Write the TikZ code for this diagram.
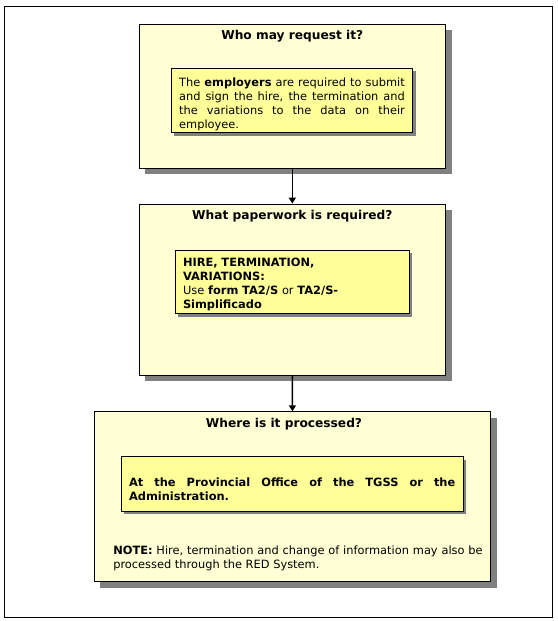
\documentclass[tikz,border=0pt]{standalone}
\usepackage{fontspec}
\setmainfont{DejaVu Sans}
\usetikzlibrary{positioning, shadows, arrows.meta}
\definecolor{paleyellow}{HTML}{FFFFD6}
\definecolor{noteyellow}{HTML}{FFFF99}
\tikzset{
	>={Triangle[length=6pt,width=7pt]}, % filled arrow heads
	stagebox/.style={draw, line width=0.8pt, fill=paleyellow, drop shadow={shadow xshift=6pt, shadow yshift=-6pt, fill=black!50, opacity=1}}, % the three big boxes
	notebox/.style={draw, line width=0.8pt, fill=noteyellow, inner sep=8pt, drop shadow={shadow xshift=3pt, shadow yshift=-3pt, fill=black!50, opacity=1}}, % the boxes inside
	titletext/.style={font=\fontsize{12.2}{14}\selectfont\bfseries}, % box headings
	bodytext/.style={font=\fontsize{11.4}{14}\selectfont}, % small text
}

\begin{document}
\begin{tikzpicture}[x=1pt, y=-1pt]
			\useasboundingbox (0,0) rectangle (557,621);
			\draw[line width=0.8pt] (4,6) rectangle (552,617);
			
			% Define boxes
			\node[stagebox, minimum width=306.7pt, minimum height=144pt] (who) at (292.3,96) {};
			\node[stagebox, minimum width=306.7pt, minimum height=171pt] (what) at (292.3,289.5) {};
			\node[stagebox, minimum width=396.4pt, minimum height=170pt] (where) at (292.5,496.7) {};
			
			% Headings
			\node[titletext] (whot) at (292.3,36.5) {Who may request it?};
			\node[titletext] (whatt) at (292.3,216.5) {What paperwork is required?};
			\node[titletext] (wheret) at (284,424.5) {Where is it processed?};
			
			% Inner boxes
			\node[notebox, bodytext, inner ysep=2pt, minimum width=241.7pt, minimum height=63pt, text width=225.7pt, align=justify] (whon) at (292,100.5)
			{\rule{0pt}{16pt}The \textbf{employers} are required to submit\linebreak and sign the hire, the termination and\linebreak the variations to the data on their\linebreak employee.};
			\node[notebox, bodytext, inner ysep=3pt, minimum width=234pt, minimum height=62.3pt, text width=218pt, align=left] (whatn) at (292,282)
			{\rule{0pt}{12.7pt}\textbf{HIRE, TERMINATION,}\\ \textbf{VARIATIONS:}\\ Use \textbf{form TA2/S} or \textbf{TA2/S-}\\ \textbf{Simplificado}};
			\node[notebox, bodytext, minimum width=342.3pt, minimum height=54.3pt, text width=326.3pt, align=justify] (wheren) at (292.2,483.8)
			{\bfseries\rule{0pt}{19pt}At the Provincial Office of the TGSS or the\linebreak Administration.};
			\node[bodytext, text width=369.4pt, inner sep=0pt, align=justify] (wherex) at (298,558.5)
			{\textbf{NOTE:} Hire, termination and change of information may also be\linebreak processed through the RED System.};
			
			% Transitions
			\path[->, line width=1.6pt]
			(who) edge (what)
			(what) edge (where);
		\end{tikzpicture}
\end{document}
